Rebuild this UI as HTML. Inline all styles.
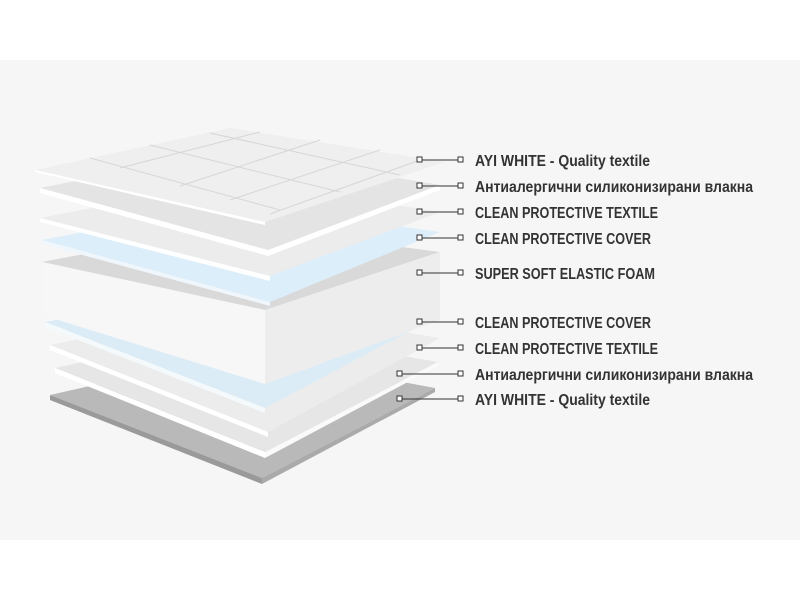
<!DOCTYPE html>
<html><head><meta charset="utf-8"><style>
body{margin:0;background:#fff;width:800px;height:600px;overflow:hidden}
svg{display:block}
text{font-family:"Liberation Sans",sans-serif;font-weight:bold;font-size:16px;fill:#333}
</style></head><body>
<svg width="800" height="600" viewBox="0 0 800 600">
<rect x="0" y="60" width="800" height="480" fill="#f6f6f6"/>
<polygon points="50,395 240,352 435,388 262,478" fill="#b9b9b9"/>
<polygon points="50,395 262,478 262,484 50,400" fill="#9a9a9a"/>
<polygon points="262,478 435,388 435,392 262,484" fill="#aaa"/>
<polygon points="55,368 240,328 438,362 265,452" fill="#e6e6e6"/>
<polygon points="55,368 265,452 265,458 55,373" fill="#fff"/>
<polygon points="265,452 438,362 438,366 265,458" fill="#fafafa"/>
<polygon points="50,345 240,305 440,338 268,432" fill="#ececec"/>
<polygon points="50,345 268,432 268,437 50,350" fill="#fff"/>
<polygon points="45,322 240,285 440,315 265,408" fill="#dcecf6"/>
<polygon points="45,322 265,408 265,413 45,327" fill="#f4f9fc"/>
<polygon points="42,262 235,225 440,252 265,310" fill="#d9d9d9"/>
<polygon points="42,262 265,310 265,384 42,315" fill="#f7f7f7"/>
<polygon points="265,310 440,252 440,320 265,384" fill="#ededed"/>
<polygon points="42,240 235,203 440,232 270,302" fill="#dceefa"/>
<polygon points="42,240 270,302 270,306 42,244" fill="#f0f7fc"/>
<polygon points="40,218 235,180 440,212 270,276" fill="#ececec"/>
<polygon points="40,218 270,276 270,281 40,222" fill="#fff"/>
<polygon points="40,188 232,150 440,185 268,250" fill="#e4e4e4"/>
<polygon points="40,188 268,250 268,256 40,193" fill="#fff"/>
<polygon points="268,250 440,185 440,190 268,256" fill="#fff"/>
<polygon points="35,170 230,128 445,162 265,222" fill="#efefef"/>
<g stroke="#d6d6d6" stroke-width="1" fill="none">
<path d="M90,158 L280,210 M150,145 L340,192 M210,133 L400,175 M120,168 L260,132 M180,186 L320,140 M230,200 L380,150 M270,214 L420,160"/>
</g>
<polygon points="35,170 265,222 265,225 35,172" fill="#fff"/>
<g stroke="#333" stroke-width="1" fill="#fff">
<line x1="420" y1="160" x2="460" y2="160"/><rect x="417" y="157" width="5" height="5"/><rect x="458" y="157" width="5" height="5"/>
<line x1="420" y1="186" x2="460" y2="186"/><rect x="417" y="183" width="5" height="5"/><rect x="458" y="183" width="5" height="5"/>
<line x1="420" y1="212" x2="460" y2="212"/><rect x="417" y="209" width="5" height="5"/><rect x="458" y="209" width="5" height="5"/>
<line x1="420" y1="238" x2="460" y2="238"/><rect x="417" y="235" width="5" height="5"/><rect x="458" y="235" width="5" height="5"/>
<line x1="420" y1="273" x2="460" y2="273"/><rect x="417" y="270" width="5" height="5"/><rect x="458" y="270" width="5" height="5"/>
<line x1="420" y1="322" x2="460" y2="322"/><rect x="417" y="319" width="5" height="5"/><rect x="458" y="319" width="5" height="5"/>
<line x1="420" y1="348" x2="460" y2="348"/><rect x="417" y="345" width="5" height="5"/><rect x="458" y="345" width="5" height="5"/>
<line x1="400" y1="374" x2="460" y2="374"/><rect x="397" y="371" width="5" height="5"/><rect x="458" y="371" width="5" height="5"/>
<line x1="400" y1="399" x2="460" y2="399"/><rect x="397" y="396" width="5" height="5"/><rect x="458" y="396" width="5" height="5"/>
</g>
<g lengthAdjust="spacingAndGlyphs">
<text x="475" y="166" textLength="175" lengthAdjust="spacingAndGlyphs">AYI WHITE - Quality textile</text>
<text x="475" y="192" textLength="278" lengthAdjust="spacingAndGlyphs">Антиалергични силиконизирани влакна</text>
<text x="475" y="218" textLength="183" lengthAdjust="spacingAndGlyphs">CLEAN PROTECTIVE TEXTILE</text>
<text x="475" y="244" textLength="176" lengthAdjust="spacingAndGlyphs">CLEAN PROTECTIVE COVER</text>
<text x="475" y="279" textLength="180" lengthAdjust="spacingAndGlyphs">SUPER SOFT ELASTIC FOAM</text>
<text x="475" y="328" textLength="176" lengthAdjust="spacingAndGlyphs">CLEAN PROTECTIVE COVER</text>
<text x="475" y="354" textLength="183" lengthAdjust="spacingAndGlyphs">CLEAN PROTECTIVE TEXTILE</text>
<text x="475" y="380" textLength="278" lengthAdjust="spacingAndGlyphs">Антиалергични силиконизирани влакна</text>
<text x="475" y="405" textLength="175" lengthAdjust="spacingAndGlyphs">AYI WHITE - Quality textile</text>
</g>
</svg>
</body></html>
